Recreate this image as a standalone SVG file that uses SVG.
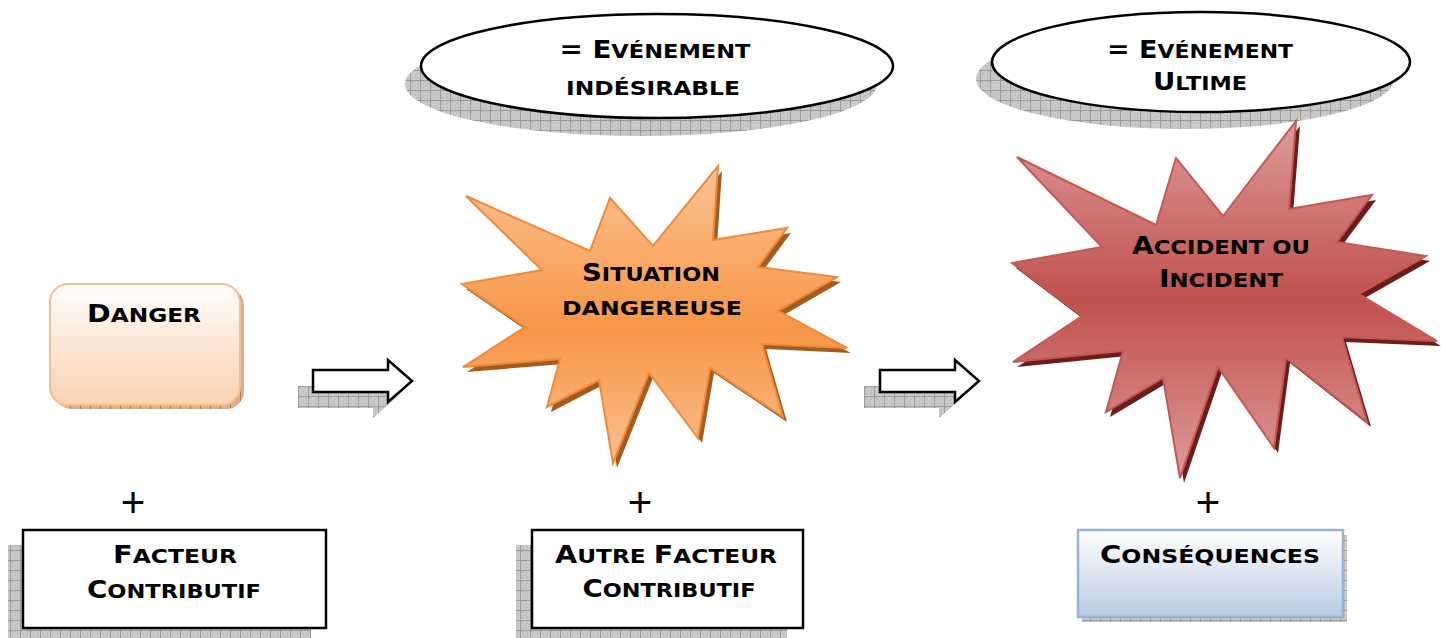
<svg xmlns="http://www.w3.org/2000/svg" width="1442" height="638" viewBox="0 0 1442 638">
  <defs>
    <!-- grey checked hatching used for drop shadows -->
    <pattern id="hatchGrey" width="10" height="10" patternUnits="userSpaceOnUse">
      <rect width="10" height="10" fill="#c9c9c9"/>
      <rect x="1" y="1" width="1" height="1" fill="#b4b4b4"/>
      <rect x="3" y="3" width="1" height="1" fill="#b4b4b4"/>
      <rect x="5" y="5" width="1" height="1" fill="#b4b4b4"/>
      <rect x="7" y="7" width="1" height="1" fill="#b4b4b4"/>
      <rect x="3" y="7" width="1" height="1" fill="#b4b4b4"/>
      <rect x="7" y="3" width="1" height="1" fill="#b4b4b4"/>
      <path d="M0 0.5H10M0.5 0V10" stroke="#9a9a9a" stroke-width="1"/>
    </pattern>
    <pattern id="hatchBrown" width="10" height="10" patternUnits="userSpaceOnUse">
      <rect width="10" height="10" fill="#d7b08e"/>
      <path d="M0.5 0V10" stroke="#b07a4e" stroke-width="1"/>
    </pattern>
    <linearGradient id="gDanger" x1="0" y1="0" x2="0" y2="1">
      <stop offset="0" stop-color="#ffffff"/>
      <stop offset="0.45" stop-color="#fde9d9"/>
      <stop offset="1" stop-color="#fbd3b2"/>
    </linearGradient>
    <linearGradient id="gOrange" x1="0" y1="0" x2="0" y2="1">
      <stop offset="0" stop-color="#fac394"/>
      <stop offset="0.55" stop-color="#f79646"/>
      <stop offset="1" stop-color="#fac090"/>
    </linearGradient>
    <linearGradient id="gRed" x1="0" y1="0" x2="0" y2="1">
      <stop offset="0" stop-color="#dc9c9a"/>
      <stop offset="0.5" stop-color="#c0504d"/>
      <stop offset="1" stop-color="#dc9c9a"/>
    </linearGradient>
    <linearGradient id="gBlue" x1="0" y1="0" x2="0" y2="1">
      <stop offset="0" stop-color="#ffffff"/>
      <stop offset="1" stop-color="#b8cce4"/>
    </linearGradient>
    <!-- block arrow outline -->
    <path id="blockArrow" d="M0 10H75V0L99 21L75 42V32H0Z"/>
    <!-- starbursts -->
    <polygon id="starOrange" points="466,196 590,251 610,198 653,246 718,166 713,240 787,228 758,267 837,277 778,311 847,348 762,344 783,417 710,368 698,438 649,373 613,463 599,380 547,407 560,359 463,367 525,327 462,284 542,270"/>
    <polygon id="starRed" points="1017,157 1156,225 1176,158 1223,216 1296,121 1289,209 1372,195 1337,242 1426,256 1359,294 1437,341 1342,337 1367,422 1286,358 1274,448 1218,367 1180,478 1163,378 1106,412 1123,351 1013,362 1082,316 1012,263 1102,247"/>
  </defs>
  <style>
    .lbl { font-family: "DejaVu Sans", "Liberation Sans", sans-serif; font-weight: bold; font-size: 24px; fill: #000; text-anchor: middle; }
    .sc { font-size: 19.5px; text-transform: uppercase; }
    .plus { font-family: "Liberation Sans", sans-serif; font-size: 42px; fill: #000; text-anchor: middle; }
    .ell { fill: #fff; stroke: #000; stroke-width: 2.5; }
    .box { fill: #fff; stroke: #000; stroke-width: 2.5; }
    .arrow { fill: #fff; stroke: #000; stroke-width: 2.5; stroke-linejoin: miter; }
  </style>

  <!-- event labels (ellipses) -->
  <g id="event-undesired">
    <ellipse cx="641" cy="84" rx="236" ry="52" fill="url(#hatchGrey)"/>
    <ellipse class="ell" cx="657" cy="66" rx="236" ry="52"/>
    <text class="lbl" x="655" y="58" textLength="191" lengthAdjust="spacingAndGlyphs">= E<tspan class="sc">vénement</tspan></text>
    <text class="lbl" x="653" y="95" textLength="174" lengthAdjust="spacingAndGlyphs"><tspan class="sc">indésirable</tspan></text>
  </g>
  <g id="event-ultimate">
    <ellipse cx="1185" cy="79" rx="209" ry="50" fill="url(#hatchGrey)"/>
    <ellipse class="ell" cx="1201" cy="62" rx="209" ry="50"/>
    <text class="lbl" x="1200" y="58" textLength="186" lengthAdjust="spacingAndGlyphs">= E<tspan class="sc">vénement</tspan></text>
    <text class="lbl" x="1200" y="90" textLength="94" lengthAdjust="spacingAndGlyphs">U<tspan class="sc">ltime</tspan></text>
  </g>

  <!-- danger -->
  <g id="danger">
    <rect x="54" y="288" width="190" height="121" rx="18" fill="url(#hatchBrown)"/>
    <rect x="50" y="284" width="190" height="121" rx="18" fill="url(#gDanger)" stroke="#f9bd8c" stroke-width="2"/>
    <text class="lbl" x="144" y="322" textLength="114" lengthAdjust="spacingAndGlyphs">D<tspan class="sc">anger</tspan></text>
  </g>

  <!-- dangerous situation -->
  <g id="situation">
    <use href="#starOrange" transform="translate(4,5)" fill="#a35c1f"/>
    <use href="#starOrange" fill="url(#gOrange)" stroke="#f08a3a" stroke-width="2" stroke-linejoin="miter"/>
    <text class="lbl" x="651" y="281" textLength="138" lengthAdjust="spacingAndGlyphs">S<tspan class="sc">ituation</tspan></text>
    <text class="lbl" x="652" y="315" textLength="180" lengthAdjust="spacingAndGlyphs"><tspan class="sc">dangereuse</tspan></text>
  </g>

  <!-- accident or incident -->
  <g id="accident">
    <use href="#starRed" transform="translate(4,5)" fill="#6a1d1b"/>
    <use href="#starRed" fill="url(#gRed)" stroke="#c65854" stroke-width="2" stroke-linejoin="miter"/>
    <text class="lbl" x="1221" y="254" textLength="178" lengthAdjust="spacingAndGlyphs">A<tspan class="sc">ccident ou</tspan></text>
    <text class="lbl" x="1221" y="287" textLength="124" lengthAdjust="spacingAndGlyphs">I<tspan class="sc">ncident</tspan></text>
  </g>

  <!-- contributing factors -->
  <g id="factor">
    <text class="plus" x="133" y="517">+</text>
    <rect x="8" y="545" width="303" height="98" fill="url(#hatchGrey)"/>
    <rect class="box" x="23" y="530" width="303" height="98"/>
    <text class="lbl" x="175" y="563" textLength="124" lengthAdjust="spacingAndGlyphs">F<tspan class="sc">acteur</tspan></text>
    <text class="lbl" x="174" y="598" textLength="174" lengthAdjust="spacingAndGlyphs">C<tspan class="sc">ontributif</tspan></text>
  </g>
  <g id="other-factor">
    <text class="plus" x="640" y="517">+</text>
    <rect x="516" y="545" width="271" height="98" fill="url(#hatchGrey)"/>
    <rect class="box" x="532" y="530" width="271" height="98"/>
    <text class="lbl" x="666" y="563" textLength="222" lengthAdjust="spacingAndGlyphs">A<tspan class="sc">utre </tspan>F<tspan class="sc">acteur</tspan></text>
    <text class="lbl" x="669" y="597" textLength="173" lengthAdjust="spacingAndGlyphs">C<tspan class="sc">ontributif</tspan></text>
  </g>
  <g id="consequences">
    <text class="plus" x="1208" y="517">+</text>
    <rect x="1082" y="535" width="265" height="87" fill="url(#hatchGrey)"/>
    <rect x="1078" y="530" width="265" height="87" fill="url(#gBlue)" stroke="#95b3d7" stroke-width="2.5"/>
    <text class="lbl" x="1210" y="563" textLength="220" lengthAdjust="spacingAndGlyphs">C<tspan class="sc">onséquences</tspan></text>
  </g>

  <!-- connectors -->
  <g id="connectors">
    <use href="#blockArrow" transform="translate(298,376)" fill="url(#hatchGrey)"/>
    <use href="#blockArrow" class="arrow" transform="translate(313,360)"/>
    <use href="#blockArrow" transform="translate(864,376)" fill="url(#hatchGrey)"/>
    <use href="#blockArrow" class="arrow" transform="translate(880,360)"/>
  </g>
</svg>
